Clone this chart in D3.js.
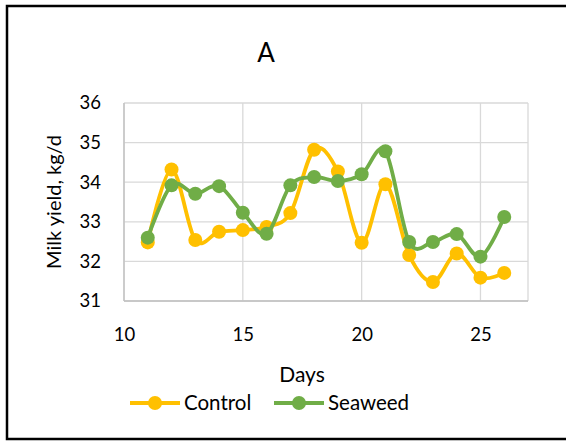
<!DOCTYPE html>
<html><head><meta charset="utf-8">
<script src="https://cdn.jsdelivr.net/npm/d3@7"></script>
<style>body{margin:0;background:#fff}svg{display:block;font-family:Lato,"Open Sans",sans-serif}</style>
</head><body><svg id="c" width="566" height="441"></svg>
<script>
const days = [11,12,13,14,15,16,17,18,19,20,21,22,23,24,25,26];
const control = [32.48,34.32,32.54,32.75,32.79,32.87,33.22,34.82,34.27,32.47,33.95,32.16,31.48,32.2,31.59,31.71];
const seaweed = [32.6,33.92,33.71,33.9,33.23,32.7,33.92,34.13,34.03,34.2,34.78,32.49,32.49,32.69,32.12,33.12];
const xTicks = [10,15,20,25];
const yTicks = [31,32,33,34,35,36];
const seriesNames = ["Control","Seaweed"];
const colors = ["#FFC000","#70AD47"];

const svg = d3.select("#c");
svg.append("rect").attr("x",7).attr("y",6).attr("width",570).attr("height",433)
  .attr("fill","#fff").attr("stroke","#000").attr("stroke-width",2.5);

const x = d3.scaleLinear().domain([10,27]).range([124,528]);
const y = d3.scaleLinear().domain([31,36]).range([301,103]);

// gridlines
svg.append("g").selectAll("line").data(yTicks).join("line")
  .attr("x1",124).attr("x2",528).attr("y1",d=>y(d)).attr("y2",d=>y(d))
  .attr("stroke","#d9d9d9").attr("stroke-width",1.3);
svg.append("g").selectAll("line").data(xTicks.concat([27])).join("line")
  .attr("y1",103).attr("y2",301).attr("x1",d=>x(d)).attr("x2",d=>x(d))
  .attr("stroke","#d9d9d9").attr("stroke-width",1.3);
// axes lines
svg.append("line").attr("x1",124).attr("x2",124).attr("y1",103).attr("y2",301).attr("stroke","#bfbfbf").attr("stroke-width",1.3);
svg.append("line").attr("x1",124).attr("x2",528).attr("y1",301).attr("y2",301).attr("stroke","#bfbfbf").attr("stroke-width",1.3);

const yAxis = d3.axisLeft(y).tickValues(yTicks).tickFormat(d3.format("d")).tickSize(0).tickPadding(0);
svg.append("g").attr("transform","translate(101,0)").call(yAxis)
  .call(g=>g.select(".domain").remove())
  .selectAll("text").attr("font-size",18.5).attr("fill","#000").attr("font-family","Lato,sans-serif");
const xAxis = d3.axisBottom(x).tickValues(xTicks).tickFormat(d3.format("d")).tickSize(0).tickPadding(0);
svg.append("g").attr("transform","translate(0,0)").call(xAxis)
  .call(g=>g.select(".domain").remove())
  .selectAll("text").attr("font-size",18.5).attr("fill","#000").attr("font-family","Lato,sans-serif")
  .attr("dy",null).attr("y",341);

svg.append("text").attr("x",266).attr("y",62).attr("text-anchor","middle").attr("font-size",26).text("A");
svg.append("text").attr("transform","translate(61,202) rotate(-90)").attr("text-anchor","middle").attr("font-size",20).text("Milk yield, kg/d");
svg.append("text").attr("x",302).attr("y",382).attr("text-anchor","middle").attr("font-size",21).text("Days");

const line = d3.line().x((d,i)=>x(days[i])).y(d=>y(d)).curve(d3.curveCatmullRom.alpha(0));
[control,seaweed].forEach((s,k)=>{
  const g = svg.append("g");
  g.append("path").datum(s).attr("d",line).attr("fill","none").attr("stroke",colors[k]).attr("stroke-width",3.8);
  g.selectAll("circle").data(s).join("circle").attr("cx",(d,i)=>x(days[i])).attr("cy",d=>y(d)).attr("r",7).attr("fill",colors[k]);
});

// legend
const lx = [130,274];
seriesNames.forEach((n,k)=>{
  const g = svg.append("g").attr("transform",`translate(${lx[k]},403)`);
  g.append("line").attr("x1",0).attr("x2",50).attr("stroke",colors[k]).attr("stroke-width",3.8);
  g.append("circle").attr("cx",25).attr("r",7).attr("fill",colors[k]);
  g.append("text").attr("x",54).attr("y",7).attr("font-size",20.5).text(n);
});
</script></body></html>
